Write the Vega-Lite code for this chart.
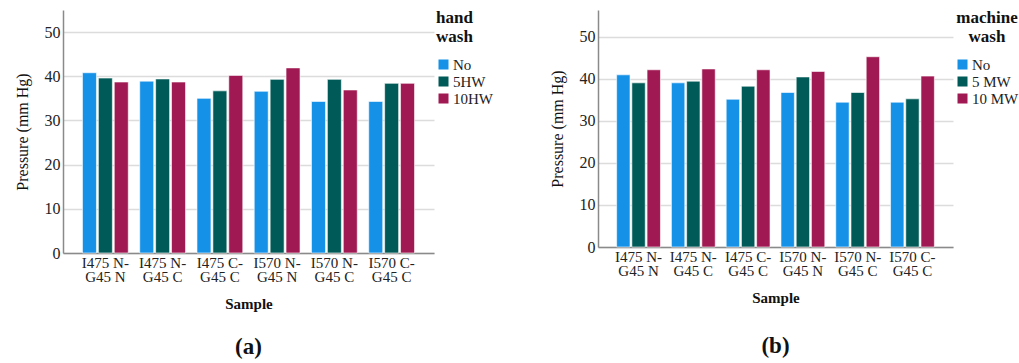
{
  "$schema": "https://vega.github.io/schema/vega-lite/v6.json",
  "background": "white",
  "padding": {"left": 14, "top": 10, "right": 0, "bottom": 0},
  "spacing": 56,
  "config": {
    "font": "Liberation Serif",
    "view": {"stroke": null},
    "style": {
      "guide-label": {"font": "Liberation Serif", "fill": "#222"},
      "guide-title": {"font": "Liberation Serif", "fill": "#111"},
      "group-title": {"font": "Liberation Serif"}
    },
    "axis": {
      "labelFont": "Liberation Serif",
      "titleFont": "Liberation Serif",
      "labelColor": "#222",
      "titleColor": "#111",
      "domainColor": "#8a8a8a",
      "domainWidth": 1.5,
      "gridColor": "#dcdcdc",
      "gridWidth": 1.5,
      "ticks": false
    },
    "legend": {
      "labelFont": "Liberation Serif",
      "titleFont": "Liberation Serif",
      "labelFontSize": 15,
      "titleFontSize": 17,
      "titleFontWeight": "bold",
      "titleLineHeight": 19,
      "symbolType": "square",
      "symbolSize": 121,
      "symbolStrokeWidth": 1,
      "symbolStrokeColor": "white",
      "labelOffset": 2,
      "rowPadding": 1,
      "titlePadding": 11,
      "offset": 2,
      "labelColor": "#222",
      "titleColor": "#111"
    },
    "title": {"font": "Liberation Serif", "fontSize": 23, "fontWeight": "bold", "color": "#111"}
  },
  "datasets": {
    "hand": [
      {"sample": "I475 N-G45 N", "wash": "No", "pressure": 40.8},
      {"sample": "I475 N-G45 N", "wash": "5HW", "pressure": 39.6},
      {"sample": "I475 N-G45 N", "wash": "10HW", "pressure": 38.7},
      {"sample": "I475 N-G45 C", "wash": "No", "pressure": 38.9},
      {"sample": "I475 N-G45 C", "wash": "5HW", "pressure": 39.4},
      {"sample": "I475 N-G45 C", "wash": "10HW", "pressure": 38.7},
      {"sample": "I475 C-G45 C", "wash": "No", "pressure": 35.0},
      {"sample": "I475 C-G45 C", "wash": "5HW", "pressure": 36.7},
      {"sample": "I475 C-G45 C", "wash": "10HW", "pressure": 40.2},
      {"sample": "I570 N-G45 N", "wash": "No", "pressure": 36.6},
      {"sample": "I570 N-G45 N", "wash": "5HW", "pressure": 39.3},
      {"sample": "I570 N-G45 N", "wash": "10HW", "pressure": 41.9},
      {"sample": "I570 N-G45 C", "wash": "No", "pressure": 34.3},
      {"sample": "I570 N-G45 C", "wash": "5HW", "pressure": 39.3},
      {"sample": "I570 N-G45 C", "wash": "10HW", "pressure": 36.9},
      {"sample": "I570 C-G45 C", "wash": "No", "pressure": 34.3},
      {"sample": "I570 C-G45 C", "wash": "5HW", "pressure": 38.4},
      {"sample": "I570 C-G45 C", "wash": "10HW", "pressure": 38.4}
    ],
    "machine": [
      {"sample": "I475 N-G45 N", "wash": "No", "pressure": 40.9},
      {"sample": "I475 N-G45 N", "wash": "5 MW", "pressure": 39.0},
      {"sample": "I475 N-G45 N", "wash": "10 MW", "pressure": 42.1},
      {"sample": "I475 N-G45 C", "wash": "No", "pressure": 39.0},
      {"sample": "I475 N-G45 C", "wash": "5 MW", "pressure": 39.4},
      {"sample": "I475 N-G45 C", "wash": "10 MW", "pressure": 42.3},
      {"sample": "I475 C-G45 C", "wash": "No", "pressure": 35.1},
      {"sample": "I475 C-G45 C", "wash": "5 MW", "pressure": 38.2},
      {"sample": "I475 C-G45 C", "wash": "10 MW", "pressure": 42.1},
      {"sample": "I570 N-G45 N", "wash": "No", "pressure": 36.7},
      {"sample": "I570 N-G45 N", "wash": "5 MW", "pressure": 40.4},
      {"sample": "I570 N-G45 N", "wash": "10 MW", "pressure": 41.7},
      {"sample": "I570 N-G45 C", "wash": "No", "pressure": 34.4},
      {"sample": "I570 N-G45 C", "wash": "5 MW", "pressure": 36.7},
      {"sample": "I570 N-G45 C", "wash": "10 MW", "pressure": 45.2},
      {"sample": "I570 C-G45 C", "wash": "No", "pressure": 34.4},
      {"sample": "I570 C-G45 C", "wash": "5 MW", "pressure": 35.2},
      {"sample": "I570 C-G45 C", "wash": "10 MW", "pressure": 40.6}
    ]
  },
  "hconcat": [
    {
      "data": {"name": "hand"},
      "width": 371,
      "height": 243,
      "title": {"text": "(a)", "orient": "bottom", "anchor": "middle", "offset": 25, "font": "Liberation Serif"},
      "mark": {"type": "bar", "stroke": "white", "strokeOpacity": 0.6, "strokeWidth": 1},
      "encoding": {
        "x": {
          "field": "sample", "type": "nominal", "sort": null,
          "scale": {"paddingInner": 0.2, "paddingOuter": 0.34},
          "axis": {
            "title": "Sample", "titleFont": "Liberation Serif", "labelFont": "Liberation Serif",
            "titleFontSize": 15, "titleFontWeight": "bold", "titlePadding": 12,
            "labelFontSize": 15, "labelAngle": 0, "labelPadding": 2, "labelLineHeight": 14,
            "labelExpr": "[slice(datum.label, 0, indexof(datum.label, '-') + 1), slice(datum.label, indexof(datum.label, '-') + 1)]"
          }
        },
        "xOffset": {"field": "wash", "type": "nominal", "sort": ["No", "5HW", "10HW"], "scale": {"domain": ["No", "5HW", "10HW"], "paddingInner": 0.12}},
        "y": {
          "field": "pressure", "type": "quantitative",
          "scale": {"domain": [0, 55], "nice": false},
          "axis": {"title": "Pressure (mm Hg)", "titleFont": "Liberation Serif", "labelFont": "Liberation Serif", "titleFontWeight": "normal", "titleFontSize": 16, "titlePadding": 14, "labelFontSize": 16, "labelPadding": 3, "values": [0, 10, 20, 30, 40, 50]}
        },
        "color": {
          "field": "wash", "type": "nominal", "sort": ["No", "5HW", "10HW"],
          "scale": {"domain": ["No", "5HW", "10HW"], "range": ["#1591e8", "#005b58", "#a01952"]},
          "legend": {"title": ["hand", "wash"]}
        }
      }
    },
    {
      "data": {"name": "machine"},
      "width": 355,
      "height": 237,
      "title": {"text": "(b)", "orient": "bottom", "anchor": "middle", "offset": 30, "font": "Liberation Serif"},
      "mark": {"type": "bar", "stroke": "white", "strokeOpacity": 0.6, "strokeWidth": 1},
      "encoding": {
        "x": {
          "field": "sample", "type": "nominal", "sort": null,
          "scale": {"paddingInner": 0.2, "paddingOuter": 0.34},
          "axis": {
            "title": "Sample", "titleFont": "Liberation Serif", "labelFont": "Liberation Serif",
            "titleFontSize": 15, "titleFontWeight": "bold", "titlePadding": 12,
            "labelFontSize": 15, "labelAngle": 0, "labelPadding": 2, "labelLineHeight": 14,
            "labelExpr": "[slice(datum.label, 0, indexof(datum.label, '-') + 1), slice(datum.label, indexof(datum.label, '-') + 1)]"
          }
        },
        "xOffset": {"field": "wash", "type": "nominal", "sort": ["No", "5 MW", "10 MW"], "scale": {"domain": ["No", "5 MW", "10 MW"], "paddingInner": 0.12}},
        "y": {
          "field": "pressure", "type": "quantitative",
          "scale": {"domain": [0, 56.3], "nice": false},
          "axis": {"title": "Pressure (mm Hg)", "titleFont": "Liberation Serif", "labelFont": "Liberation Serif", "titleFontWeight": "normal", "titleFontSize": 16, "titlePadding": 14, "labelFontSize": 16, "labelPadding": 3, "values": [0, 10, 20, 30, 40, 50]}
        },
        "color": {
          "field": "wash", "type": "nominal", "sort": ["No", "5 MW", "10 MW"],
          "scale": {"domain": ["No", "5 MW", "10 MW"], "range": ["#1591e8", "#005b58", "#a01952"]},
          "legend": {"title": ["machine", "wash"], "titleAlign": "center", "titleAnchor": "middle"}
        }
      }
    }
  ],
  "resolve": {"scale": {"color": "independent", "xOffset": "independent", "x": "independent", "y": "independent"}, "legend": {"color": "independent"}, "axis": {"x": "independent", "y": "independent"}}
}
